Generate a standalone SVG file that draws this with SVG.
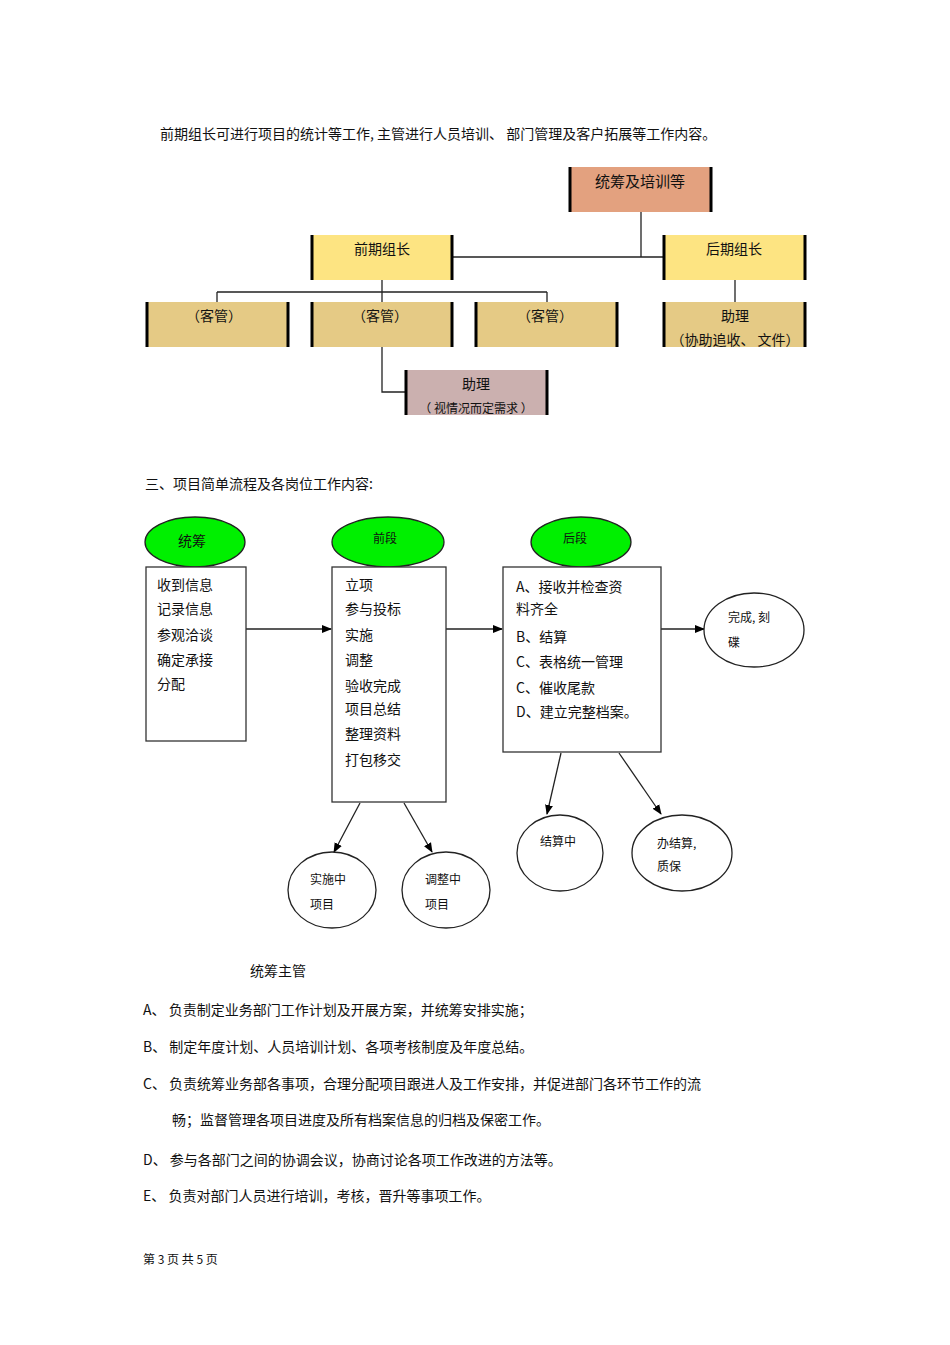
<svg xmlns="http://www.w3.org/2000/svg" width="950" height="1345" viewBox="0 0 950 1345">
<style>
text{font-family:"Noto Sans CJK SC","Liberation Sans",sans-serif;fill:#111;font-size:14px}
.c{text-anchor:middle}
.s{font-size:12px}
.ln{stroke:#222;stroke-width:1.3;fill:none}
.bar{stroke:#000;stroke-width:3}
.bx{fill:#fff;stroke:#333;stroke-width:1.3}
.el{fill:#00f000;stroke:#222;stroke-width:1.3}
.ci{fill:#fff;stroke:#222;stroke-width:1.3}
</style>
<defs><marker id="a" markerWidth="10" markerHeight="10" refX="9" refY="5" orient="auto" markerUnits="userSpaceOnUse"><path d="M0,1 L10,5 L0,9 z" fill="#000"/></marker></defs>
<rect width="950" height="1345" fill="#fff"/>
<text x="160" y="139">前期组长可进行项目的统计等工作,        主管进行人员培训、   部门管理及客户拓展等工作内容。</text>
<g id="connectors-org">
<path class="ln" d="M641,212 V257 M453,257 H663 M382,280 V292 M217,292 H547 M217,292 V302 M382,292 V302 M547,292 V302 M735,280 V302 M382,347 V392 H405"/>
</g>
<g id="n-top"><rect x="569" y="167" width="143" height="45" fill="#E3A17F"/><path class="bar" d="M570,167V212M711,167V212"/><text class="c" x="640" y="187" style="font-size:15px">统筹及培训等</text></g>
<g id="n-qq"><rect x="311" y="235" width="142" height="45" fill="#FDE482"/><path class="bar" d="M312,235V280M452,235V280"/><text class="c" x="382" y="254">前期组长</text></g>
<g id="n-hq"><rect x="663" y="235" width="143" height="45" fill="#FDE482"/><path class="bar" d="M664,235V280M805,235V280"/><text class="c" x="734" y="254">后期组长</text></g>
<g id="n-k1"><rect x="146" y="302" width="143" height="45" fill="#E5CA85"/><path class="bar" d="M147,302V347M288,302V347"/><text class="c" x="214" y="321">（客管）</text></g>
<g id="n-k2"><rect x="311" y="302" width="142" height="45" fill="#E5CA85"/><path class="bar" d="M312,302V347M452,302V347"/><text class="c" x="380" y="321">（客管）</text></g>
<g id="n-k3"><rect x="475" y="302" width="143" height="45" fill="#E5CA85"/><path class="bar" d="M476,302V347M617,302V347"/><text class="c" x="545" y="321">（客管）</text></g>
<g id="n-zl1"><rect x="663" y="302" width="143" height="45" fill="#E5CA85"/><path class="bar" d="M664,302V347M805,302V347"/><text class="c" x="735" y="321">助理</text><text class="c" x="735" y="345">（协助追收、  文件）</text></g>
<g id="n-zl2"><rect x="405" y="370" width="143" height="45" fill="#CBB0AF"/><path class="bar" d="M406,370V415M547,370V415"/><text class="c" x="476" y="389">助理</text><text class="c s" x="476" y="413">（ 视情况而定需求  ）</text></g>
<text x="145" y="489">三、项目简单流程及各岗位工作内容:</text>
<g id="connectors-flow">
<path class="ln" marker-end="url(#a)" d="M246,629 H331"/>
<path class="ln" marker-end="url(#a)" d="M446,629 H502"/>
<path class="ln" marker-end="url(#a)" d="M661,629 H704"/>
<path class="ln" marker-end="url(#a)" d="M360,803 L334,852"/>
<path class="ln" marker-end="url(#a)" d="M404,803 L432,852"/>
<path class="ln" marker-end="url(#a)" d="M561,753 L547,814"/>
<path class="ln" marker-end="url(#a)" d="M619,753 L661,814"/>
</g>
<g id="n-tc"><ellipse class="el" cx="195" cy="542" rx="50" ry="25"/><text class="c" x="192" y="546">统筹</text></g>
<g id="n-qd"><ellipse class="el" cx="388" cy="542" rx="56" ry="25"/><text class="c s" x="385" y="543">前段</text></g>
<g id="n-hd"><ellipse class="el" cx="581" cy="542" rx="50" ry="25"/><text class="c s" x="575" y="543">后段</text></g>
<g id="n-b1"><rect class="bx" x="146" y="567" width="100" height="174"/>
<text x="157" y="590">收到信息</text><text x="157" y="614">记录信息</text><text x="157" y="640">参观洽谈</text><text x="157" y="665">确定承接</text><text x="157" y="689">分配</text></g>
<g id="n-b2"><rect class="bx" x="332" y="567" width="114" height="235"/>
<text x="345" y="590">立项</text><text x="345" y="614">参与投标</text><text x="345" y="640">实施</text><text x="345" y="665">调整</text><text x="345" y="691">验收完成</text><text x="345" y="714">项目总结</text><text x="345" y="739">整理资料</text><text x="345" y="765">打包移交</text></g>
<g id="n-b3"><rect class="bx" x="503" y="567" width="158" height="185"/>
<text x="516" y="592">A、接收并检查资</text><text x="516" y="614">料齐全</text><text x="516" y="642">B、结算</text><text x="516" y="667">C、表格统一管理</text><text x="516" y="693">C、催收尾款</text><text x="516" y="717">D、建立完整档案。</text></g>
<g id="n-wc"><ellipse class="ci" cx="754" cy="630" rx="50" ry="37"/><text class="s" x="728" y="622">完成,  刻</text><text class="s" x="728" y="647">碟</text></g>
<g id="n-ss"><ellipse class="ci" cx="332" cy="890" rx="44" ry="38"/><text class="s" x="310" y="884">实施中</text><text class="s" x="310" y="909">项目</text></g>
<g id="n-tz"><ellipse class="ci" cx="446" cy="890" rx="44" ry="38"/><text class="s" x="425" y="884">调整中</text><text class="s" x="425" y="909">项目</text></g>
<g id="n-js"><ellipse class="ci" cx="560" cy="853" rx="43" ry="38"/><text class="s" x="540" y="846">结算中</text></g>
<g id="n-bj"><ellipse class="ci" cx="682" cy="853" rx="50" ry="38"/><text class="s" x="657" y="848">办结算,</text><text class="s" x="657" y="871">质保</text></g>
<text x="250" y="976">统筹主管</text>
<text x="143" y="1015">A、  负责制定业务部门工作计划及开展方案，并统筹安排实施；</text>
<text x="143" y="1052">B、  制定年度计划、人员培训计划、各项考核制度及年度总结。</text>
<text x="143" y="1089">C、  负责统筹业务部各事项，合理分配项目跟进人及工作安排，并促进部门各环节工作的流</text>
<text x="172" y="1125">畅；监督管理各项目进度及所有档案信息的归档及保密工作。</text>
<text x="143" y="1165">D、  参与各部门之间的协调会议，协商讨论各项工作改进的方法等。</text>
<text x="143" y="1201">E、  负责对部门人员进行培训，考核，晋升等事项工作。</text>
<text x="143" y="1264" style="font-size:12px">第  3  页  共  5  页</text>
</svg>
